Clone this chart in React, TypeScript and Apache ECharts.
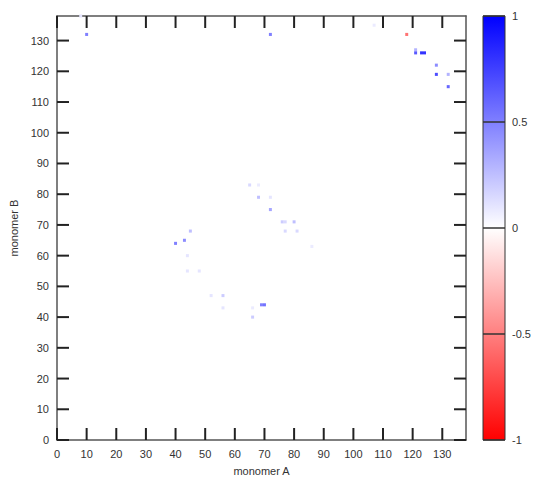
import React, { useEffect, useRef } from "react";
import * as echarts from "echarts";

// Axis settings (monomer index range)
const AXIS_MIN = 0;
const AXIS_MAX = 138;
const AXIS_INTERVAL = 10;
const frameTicks = [0, 10, 20, 30, 40, 50, 60, 70, 80, 90, 100, 110, 120, 130];

// Contact-map cells: monomer A index, monomer B index, correlation value
const cellA = [8, 10, 72, 107, 118, 121, 121, 123, 124, 128, 128, 132, 132,
  65, 68, 68, 72, 72, 76, 77, 80, 77, 81, 86,
  45, 43, 40, 44, 44, 48,
  52, 56, 56, 69, 70, 66, 66];
const cellB = [138, 132, 132, 135, 132, 127, 126, 126, 126, 122, 119, 119, 115,
  83, 83, 79, 79, 75, 71, 71, 71, 68, 68, 63,
  68, 65, 64, 60, 55, 55,
  47, 47, 43, 44, 44, 40, 43];
const cellV = [0.1, 0.5, 0.5, 0.08, -0.55, 0.3, 0.65, 0.8, 0.8, 0.45, 0.7, 0.3, 0.6,
  0.15, 0.08, 0.25, 0.1, 0.35, 0.2, 0.15, 0.25, 0.15, 0.15, 0.08,
  0.25, 0.45, 0.5, 0.1, 0.1, 0.1,
  0.1, 0.2, 0.1, 0.5, 0.55, 0.2, 0.08];

// Color bar
const colorMin = -1;
const colorMax = 1;
const colorInterval = 0.5;
const colorStops = ["#ff0000", "#ffffff", "#0000ff"];

const FONT = "'Liberation Sans', Arial, sans-serif";
const TICK_LEN = 12;

function frameAxis(position: string, showLabel: boolean, name?: string, nameGap?: number) {
  return {
    type: "value",
    gridIndex: 0,
    position,
    min: AXIS_MIN,
    max: AXIS_MAX,
    interval: AXIS_INTERVAL,
    splitLine: { show: false },
    axisLine: { show: true, onZero: false, lineStyle: { color: "#555", width: 1.5 } },
    axisTick: { show: false },
    axisLabel: {
      show: showLabel,
      showMaxLabel: false,
      fontSize: 11,
      color: "#333",
      fontFamily: FONT,
      margin: 8,
    },
    name: name || "",
    nameLocation: "middle",
    nameGap: nameGap || 0,
    nameTextStyle: { fontSize: 11, color: "#333", fontFamily: FONT },
  };
}

export default function App() {
  const ref = useRef<HTMLDivElement>(null);

  useEffect(() => {
    if (!ref.current) return;
    document.body.style.margin = "0";
    const chart = echarts.init(ref.current, undefined, { renderer: "svg" });
    const data = cellA.map((a, i) => [a, cellB[i], cellV[i]]);

    chart.setOption({
      animation: false,
      backgroundColor: "#ffffff",
      grid: [
        { left: 57, top: 16, width: 409, height: 424, containLabel: false, outerBoundsMode: "none" },
        {
          left: 483, top: 16, width: 22, height: 424, show: true, outerBoundsMode: "none",
          borderColor: "#333", borderWidth: 1,
          backgroundColor: new echarts.graphic.LinearGradient(0, 0, 0, 1, [
            { offset: 0, color: colorStops[2] },
            { offset: 0.5, color: colorStops[1] },
            { offset: 1, color: colorStops[0] },
          ]),
        },
      ],
      xAxis: [
        frameAxis("bottom", true, "monomer A", 25),
        frameAxis("top", false),
        { type: "value", gridIndex: 1, min: 0, max: 1, show: false },
      ],
      yAxis: [
        frameAxis("left", true, "monomer B", 35),
        frameAxis("right", false),
        {
          type: "value", gridIndex: 1, position: "right",
          min: colorMin, max: colorMax, interval: colorInterval,
          axisLine: { show: false },
          axisTick: { show: false },
          splitLine: { show: true, lineStyle: { color: "#333", width: 1.5 } },
          axisLabel: { fontSize: 11, color: "#333", fontFamily: FONT, margin: 7 },
        },
      ],
      visualMap: {
        type: "continuous",
        show: false,
        min: colorMin,
        max: colorMax,
        dimension: 2,
        seriesIndex: 0,
        inRange: { color: colorStops },
      },
      series: [
        {
          type: "custom",
          xAxisIndex: 0,
          yAxisIndex: 0,
          data,
          renderItem: (params: any, api: any) => {
            const x = api.value(0);
            const y = api.value(1);
            const p0 = api.coord([x - 0.5, y + 0.5]);
            const p1 = api.coord([x + 0.5, y - 0.5]);
            return {
              type: "rect",
              shape: { x: p0[0], y: p0[1], width: p1[0] - p0[0], height: p1[1] - p0[1] },
              style: { fill: api.visual("color") },
            };
          },
        },
        {
          // inward tick marks on all four sides of the frame
          type: "custom",
          xAxisIndex: 0,
          yAxisIndex: 0,
          clip: false,
          silent: true,
          z: 5,
          data: frameTicks.map((t) => [t, t]),
          renderItem: (params: any, api: any) => {
            const t = api.value(0);
            const b = api.coord([t, AXIS_MIN]);
            const tp = api.coord([t, AXIS_MAX]);
            const l = api.coord([AXIS_MIN, t]);
            const r = api.coord([AXIS_MAX, t]);
            const st = { stroke: "#222", lineWidth: 2, fill: null };
            return {
              type: "group",
              children: [
                { type: "line", shape: { x1: b[0], y1: b[1], x2: b[0], y2: b[1] - TICK_LEN }, style: st },
                { type: "line", shape: { x1: tp[0], y1: tp[1], x2: tp[0], y2: tp[1] + TICK_LEN }, style: st },
                { type: "line", shape: { x1: l[0], y1: l[1], x2: l[0] + TICK_LEN, y2: l[1] }, style: st },
                { type: "line", shape: { x1: r[0], y1: r[1], x2: r[0] - TICK_LEN, y2: r[1] }, style: st },
              ],
            };
          },
        },
      ],
    });
    return () => chart.dispose();
  }, []);

  return <div ref={ref} style={{ width: 533, height: 479 }} />;
}
